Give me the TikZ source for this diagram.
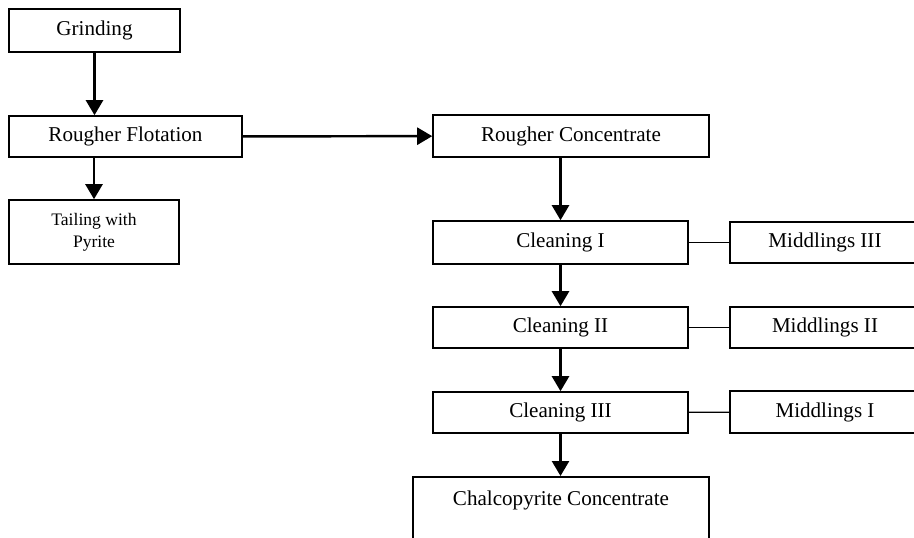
\documentclass[tikz,border=0pt]{standalone}
\usepackage{fontspec}
\setmainfont{Liberation Serif}
\usetikzlibrary{arrows.meta}
\begin{document}
\begin{tikzpicture}
        \tikzstyle{block} = [rectangle, draw=black, text=black, text centered, line width=.9pt, font=\fontsize{12}{14}\selectfont, minimum height=.84cm, inner sep=0pt]
        \tikzstyle{line} = [-{Triangle[length=.3cm,width=.34cm]},draw=black,line width=1.4pt]
        \tikzstyle{link} = [draw=black,line width=.7pt]
        \useasboundingbox (0,0) rectangle (18.28,-10.74);
        \clip (0,0) rectangle (18.28,-10.74);
        \node[block,minimum width=3.42cm,minimum height=.86cm] (grind) at (1.89,-.61) {Grinding};
        \node[block,minimum width=4.66cm,minimum height=.82cm] (rough) at (2.51,-2.73) {Rougher Flotation};
        \node[block,minimum width=3.40cm,minimum height=1.28cm,align=center,font=\fontsize{10}{12.5}\selectfont] (tail) at (1.88,-4.64) {Tailing with\\Pyrite};
        \node[block,minimum width=5.52cm] (rconc) at (11.42,-2.72) {Rougher Concentrate};
        \node[block,minimum width=5.10cm,minimum height=.86cm] (clean1) at (11.21,-4.85) {Cleaning I};
        \node[block,minimum width=5.10cm,minimum height=.82cm] (clean2) at (11.21,-6.55) {Cleaning II};
        \node[block,minimum width=5.10cm,minimum height=.82cm] (clean3) at (11.21,-8.25) {Cleaning III};
        \node[block,minimum width=3.80cm,minimum height=.82cm] (mid3) at (16.50,-4.85) {Middlings III};
        \node[block,minimum width=3.80cm,minimum height=.82cm] (mid2) at (16.50,-6.55) {Middlings II};
        \node[block,minimum width=3.80cm] (mid1) at (16.50,-8.24) {Middlings I};
        \node[block,anchor=north,minimum width=5.92cm,text height=.58cm,text depth=1.4cm] (chalco) at (11.22,-9.52) {Chalcopyrite Concentrate};
        \draw[line] (grind.south) to (grind.south |- rough.north);
        \draw[line] (tail.north |- rough.south) to (tail.north);
        \draw[line] (rough) to (rconc);
        \draw[line] (clean1.north |- rconc.south) to (clean1.north);
        \draw[line] (clean1) to (clean2);
        \draw[line] (clean2) to (clean3);
        \draw[line] (clean3.south) to (clean3.south |- chalco.north);
        \draw[link] (clean1) to (mid3);
        \draw[link] (clean2) to (mid2);
        \draw[link] (clean3) to (mid1);
    \end{tikzpicture}
\end{document}
